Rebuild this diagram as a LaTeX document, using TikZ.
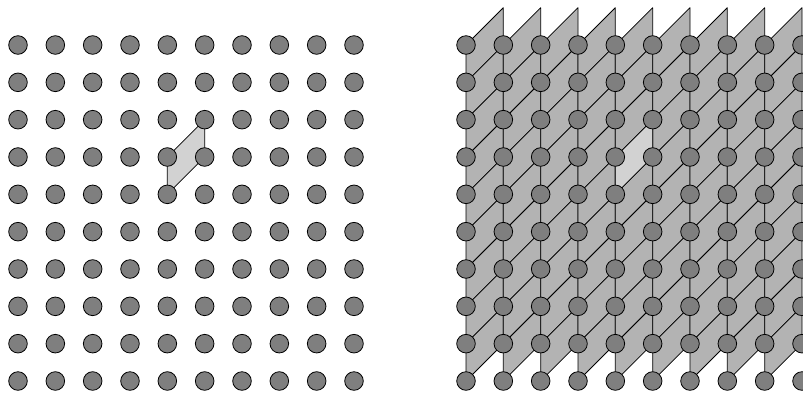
\documentclass[tikz,border=0pt]{standalone}
\definecolor{dotgray}{HTML}{7F7F7F}
\definecolor{cellgray}{HTML}{B3B3B3}
\definecolor{hlgray}{HTML}{D2D2D2}
\tikzset{
  dot/.style={circle, fill=dotgray, draw=black, line width=0.8pt, minimum size=18.6pt, inner sep=0pt},
  cell/.style={fill=cellgray, draw=black, line width=0.8pt, line join=round},
  hl/.style={fill=hlgray, draw=black, line width=0.8pt, line join=round}
}
\begin{document}
\begin{tikzpicture}[x=1pt,y=-1pt]
\useasboundingbox (0,0) rectangle (803,392);
\clip (0,0) rectangle (803,392);
% right lattice strips
\foreach \j in {0,...,8} {
  \foreach \r in {0,...,8} {
    \pgfmathsetmacro\xa{466+37.333*\j}
    \pgfmathsetmacro\xb{466+37.333*(\j+1)}
    \pgfmathsetmacro\ya{45+37.333*\r}
    \pgfmathsetmacro\yb{45+37.333*(\r+1)}
    \pgfmathsetmacro\yc{45+37.333*(\r-1)}
    \draw[cell] (\xa,\ya) -- (\xb,\yc) -- (\xb,\ya) -- (\xa,\yb) -- cycle;
  }
}
% highlighted cells
\draw[hl] (167.33,157) -- (204.67,119.67) -- (204.67,157) -- (167.33,194.33) -- cycle;
\draw[hl] (615.33,157) -- (652.67,119.67) -- (652.67,157) -- (615.33,194.33) -- cycle;
% lattice points
\foreach \i in {0,...,9} {
  \foreach \r in {0,...,9} {
    \node[dot] (L-\i-\r) at ({18+37.333*\i},{45+37.333*\r}) {};
    \node[dot] (R-\i-\r) at ({466+37.333*\i},{45+37.333*\r}) {};
  }
}
\end{tikzpicture}
\end{document}
